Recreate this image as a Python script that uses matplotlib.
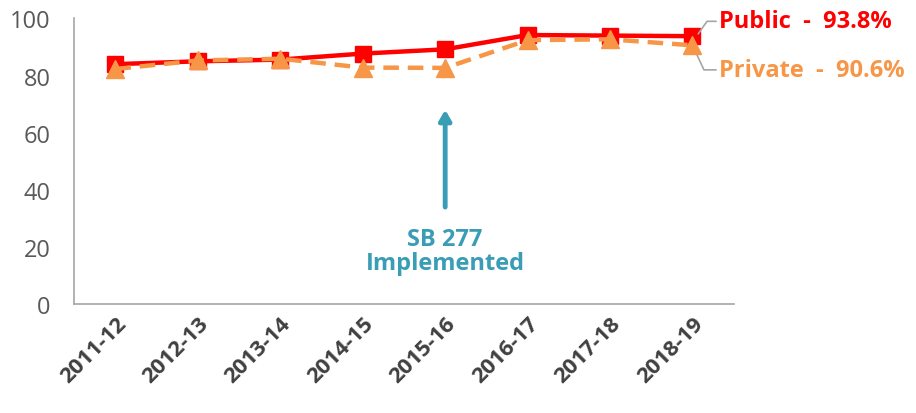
import matplotlib
matplotlib.use("Agg")
import matplotlib.pyplot as plt

plt.rcParams["font.family"] = ["Open Sans", "DejaVu Sans"]

years = ["2011-12", "2012-13", "2013-14", "2014-15", "2015-16", "2016-17", "2017-18", "2018-19"]
public = [84.0, 85.0, 85.6, 87.7, 89.2, 94.2, 94.0, 93.8]
private = [82.3, 85.3, 85.9, 82.8, 82.7, 92.4, 92.7, 90.6]
event_year = "2015-16"

RED = "#FF0000"
ORANGE = "#F79646"
TEAL = "#3A9DB6"
GRAY = "#595959"
SPINE = "#A6A6A6"

fig = plt.figure(figsize=(9.16, 4.14), dpi=100)
ax = fig.add_axes([0.081, 0.263, 0.72, 0.69])

xs = list(range(len(years)))
ax.plot(xs, public, color=RED, linewidth=3.2, marker="s", markersize=12, zorder=3)
ax.plot(xs, private, color=ORANGE, linewidth=3.2, linestyle=(0, (3.5, 2)),
        marker="^", markersize=13, zorder=4)

ax.set_xlim(-0.5, len(years) - 0.5)
ax.set_ylim(0, 100)
ax.set_yticks([0, 20, 40, 60, 80, 100])
ax.tick_params(axis="y", length=0, pad=17, labelsize=17, labelcolor=GRAY)
ax.tick_params(axis="x", length=0, pad=6)
ax.set_xticks(xs)
ax.set_xticklabels(years, rotation=45, ha="right", rotation_mode="anchor",
                   fontsize=16, fontweight="bold", color="#404040")

for side in ("top", "right"):
    ax.spines[side].set_visible(False)
for side in ("left", "bottom"):
    ax.spines[side].set_color(SPINE)
    ax.spines[side].set_linewidth(1.2)

# end labels with leader lines
n = len(years) - 1
ax.annotate(f"Public  -  {public[-1]}%", xy=(n + 0.05, public[-1]), xytext=(n + 0.32, 99),
            fontsize=17, fontweight="bold", color=RED, va="center", ha="left",
            annotation_clip=False,
            arrowprops=dict(arrowstyle="-", color=SPINE, lw=1.2,
                            connectionstyle="angle,angleA=0,angleB=55,rad=0",
                            shrinkA=0, shrinkB=2))
ax.annotate(f"Private  -  {private[-1]}%", xy=(n, private[-1]), xytext=(n + 0.32, 82),
            fontsize=17, fontweight="bold", color=ORANGE, va="center", ha="left",
            annotation_clip=False,
            arrowprops=dict(arrowstyle="-", color=SPINE, lw=1.2,
                            connectionstyle="angle,angleA=0,angleB=-65,rad=0",
                            shrinkA=0, shrinkB=6))

# SB 277 arrow
ex = years.index(event_year)
ax.annotate("", xy=(ex, 69), xytext=(ex, 33),
            arrowprops=dict(arrowstyle="-|>,head_width=0.35,head_length=0.6",
                            color=TEAL, lw=3.5))
ax.text(ex, 18.5, "SB 277\nImplemented", ha="center", va="center", fontsize=17,
        fontweight="bold", color=TEAL, linespacing=1.0)

fig.savefig("out.png", dpi=100)
